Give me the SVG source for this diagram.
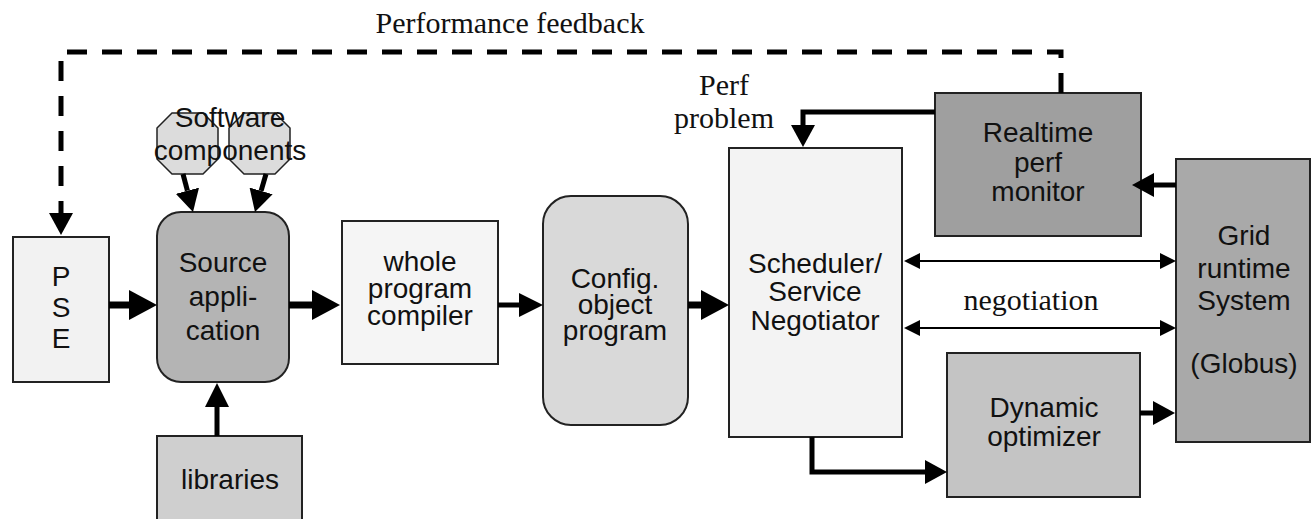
<svg xmlns="http://www.w3.org/2000/svg" width="1312" height="519" viewBox="0 0 1312 519">
<style>
.box{stroke:#222;stroke-width:2}
.t{font-family:"Liberation Sans",Arial,sans-serif;font-size:28px;fill:#111;text-anchor:middle}
.s{font-family:"Liberation Serif","Times New Roman",serif;font-size:30px;fill:#111;text-anchor:middle}
.c{fill:none;stroke:#000;stroke-linejoin:miter}
</style>
<defs>
<marker id="big" markerUnits="userSpaceOnUse" viewBox="0 -15 28 30" refX="0" refY="0" markerWidth="28" markerHeight="30" orient="auto"><path d="M0,-15L28,0L0,15z" fill="#000"/></marker>
<marker id="med" markerUnits="userSpaceOnUse" viewBox="0 -12 24 24" refX="0" refY="0" markerWidth="24" markerHeight="24" orient="auto"><path d="M0,-12L24,0L0,12z" fill="#000"/></marker>
<marker id="sm" markerUnits="userSpaceOnUse" viewBox="0 -12 22 24" refX="0" refY="0" markerWidth="22" markerHeight="24" orient="auto"><path d="M0,-12L22,0L0,12z" fill="#000"/></marker>
<marker id="thin" markerUnits="userSpaceOnUse" viewBox="0 -8 16 16" refX="0" refY="0" markerWidth="16" markerHeight="16" orient="auto-start-reverse"><path d="M0,-8L16,0L0,8z" fill="#000"/></marker>
</defs>

<g id="nodes">
<g id="pse"><rect class="box" x="13" y="237" width="96" height="145" fill="#f2f2f2"/>
<text class="t" x="61" y="286">P</text><text class="t" x="61" y="317">S</text><text class="t" x="61" y="348">E</text></g>

<g id="software1"><polygon class="box" points="172,113 203,113 218,128 218,159 203,174 172,174 157,159 157,128" fill="#dcdcdc" style="stroke-width:1.5"/></g>
<g id="software2"><polygon class="box" points="244,113 275,113 290,128 290,159 275,174 244,174 229,159 229,128" fill="#dcdcdc" style="stroke-width:1.5"/></g>
<g id="software-label"><text class="t" x="230" y="127">Software</text><text class="t" x="230" y="160">components</text></g>

<g id="source"><rect class="box" x="157" y="212" width="132" height="170" rx="24" ry="24" fill="#b4b4b4"/>
<text class="t" x="223" y="272">Source</text><text class="t" x="223" y="306">appli-</text><text class="t" x="223" y="340">cation</text></g>

<g id="libraries"><rect class="box" x="157" y="436" width="145" height="100" fill="#cfcfcf"/>
<text class="t" x="230" y="489">libraries</text></g>

<g id="compiler"><rect class="box" x="342" y="221" width="156" height="143" fill="#f5f5f5"/>
<text class="t" x="420" y="271">whole</text><text class="t" x="420" y="298">program</text><text class="t" x="420" y="325">compiler</text></g>

<g id="config"><rect class="box" x="543" y="196" width="145" height="229" rx="28" ry="28" fill="#d9d9d9"/>
<text class="t" x="615" y="288">Config.</text><text class="t" x="615" y="314">object</text><text class="t" x="615" y="340">program</text></g>

<g id="scheduler"><rect class="box" x="729" y="148" width="173" height="289" fill="#f3f3f3"/>
<text class="t" x="815" y="273">Scheduler/</text><text class="t" x="815" y="301">Service</text><text class="t" x="815" y="330">Negotiator</text></g>

<g id="realtime"><rect class="box" x="935" y="93" width="206" height="143" fill="#9f9f9f"/>
<text class="t" x="1038" y="142">Realtime</text><text class="t" x="1038" y="172">perf</text><text class="t" x="1038" y="201">monitor</text></g>

<g id="grid"><rect class="box" x="1176" y="159" width="134" height="283" fill="#a9a9a9"/>
<text class="t" x="1244" y="245">Grid</text><text class="t" x="1244" y="278">runtime</text><text class="t" x="1244" y="310">System</text><text class="t" x="1244" y="373">(Globus)</text></g>

<g id="dynamic"><rect class="box" x="947" y="353" width="193" height="144" fill="#c4c4c4"/>
<text class="t" x="1044" y="417">Dynamic</text><text class="t" x="1044" y="446">optimizer</text></g>
</g>

<g id="connectors">
<path class="c" d="M1061,93V52H61V213" stroke-width="5" stroke-dasharray="20 15" marker-end="url(#sm)"/>
<path class="c" d="M109,305H129" stroke-width="7" marker-end="url(#big)"/>
<path class="c" d="M289,305H312" stroke-width="7" marker-end="url(#big)"/>
<path class="c" d="M498,305H519" stroke-width="5" marker-end="url(#med)"/>
<path class="c" d="M688,305H701" stroke-width="7" marker-end="url(#big)"/>
<path class="c" d="M183,174L187.4,190.7" stroke-width="5" marker-end="url(#sm)"/>
<path class="c" d="M266,174L261.1,190.9" stroke-width="5" marker-end="url(#sm)"/>
<path class="c" d="M217,436V407" stroke-width="5" marker-end="url(#med)"/>
<path class="c" d="M935,112H803V125" stroke-width="5" marker-end="url(#sm)"/>
<path class="c" d="M1176,185H1154" stroke-width="5" marker-end="url(#sm)"/>
<path class="c" d="M920,261H1160" stroke-width="2" marker-start="url(#thin)" marker-end="url(#thin)"/>
<path class="c" d="M920,328H1160" stroke-width="2" marker-start="url(#thin)" marker-end="url(#thin)"/>
<path class="c" d="M812,437V472H925" stroke-width="5" marker-end="url(#sm)"/>
<path class="c" d="M1140,413H1153" stroke-width="5" marker-end="url(#sm)"/>
</g>

<g id="labels">
<text class="s" x="510" y="33">Performance feedback</text>
<text class="s" x="724" y="95">Perf</text>
<text class="s" x="724" y="128">problem</text>
<text class="s" x="1031" y="310">negotiation</text>
</g>
</svg>
